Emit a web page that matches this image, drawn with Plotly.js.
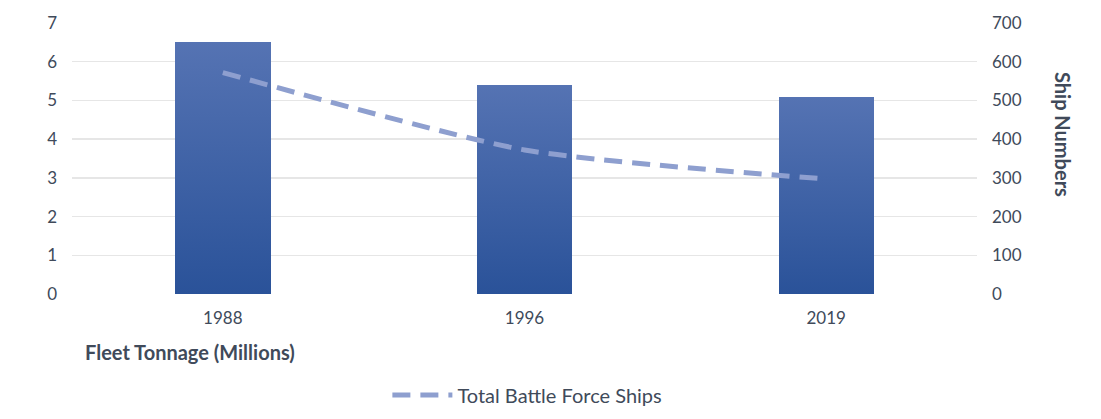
<!DOCTYPE html>
<html>
<head>
<meta charset="utf-8">
<script src="https://cdn.plot.ly/plotly-3.0.1.min.js"></script>
<style>
  html, body { margin: 0; padding: 0; background: #fff; }
  #chart { width: 1101px; height: 419px; }
</style>
</head>
<body>
<div id="chart"></div>
<script>
var years = ['1988', '1996', '2019'];
var fleetTonnage = [6.5, 5.4, 5.1];       // millions
var battleForceShips = [572, 372, 297];

var textColor = '#404a5a';
var font = 'Lato, "Open Sans", sans-serif';

var traces = [
    {
        type: 'bar',
        x: years,
        y: fleetTonnage,
        width: 0.316,
        marker: { color: '#3d63a8', line: { width: 0 } },
        showlegend: false,
        hoverinfo: 'skip'
    },
    {
        type: 'scatter',
        mode: 'lines',
        x: years,
        y: battleForceShips,
        yaxis: 'y2',
        name: 'Total Battle Force Ships',
        line: { color: '#8e9fcf', width: 5, dash: '18px,10px', shape: 'spline', smoothing: 0.6 }
    }
];

var layout = {
    width: 1101,
    height: 419,
    margin: { l: 72, r: 124, t: 23, b: 125 },
    plot_bgcolor: '#fff',
    paper_bgcolor: '#fff',
    font: { family: font, size: 17, color: textColor },
    bargap: 0,
    xaxis: {
        type: 'category',
        showgrid: false,
        showline: false,
        zeroline: false,
        ticks: '',
        tickfont: { size: 17, color: textColor },
        ticklabelstandoff: 12
    },
    yaxis: {
        range: [0, 7],
        dtick: 1,
        showgrid: true,
        gridcolor: '#e6e6e6',
        gridwidth: 1.5,
        zeroline: false,
        showline: false,
        ticks: '',
        tickfont: { size: 17, color: textColor },
        ticklabelstandoff: 14
    },
    yaxis2: {
        overlaying: 'y',
        side: 'right',
        range: [0, 700],
        dtick: 100,
        showgrid: false,
        zeroline: false,
        showline: false,
        ticks: '',
        tickfont: { size: 17, color: textColor },
        ticklabelstandoff: 14
    },
    showlegend: true,
    legend: {
        orientation: 'h',
        xref: 'container',
        yref: 'container',
        x: 0.479,
        xanchor: 'center',
        y: 0.057,
        yanchor: 'middle',
        font: { size: 20, color: textColor },
        itemwidth: 60
    },
    annotations: [
        {
            text: '<b>Fleet Tonnage (Millions)</b>',
            xref: 'paper', yref: 'paper',
            x: 0.012, y: -0.214,
            xanchor: 'left', yanchor: 'middle',
            showarrow: false,
            font: { size: 20, color: textColor }
        },
        {
            text: '<b>Ship Numbers</b>',
            xref: 'paper', yref: 'paper',
            x: 1.095, y: 0.587,
            xanchor: 'center', yanchor: 'middle',
            textangle: 90,
            showarrow: false,
            font: { size: 20, color: textColor }
        }
    ]
};

Plotly.newPlot('chart', traces, layout, { displayModeBar: false, staticPlot: true }).then(function (gd) {
    // vertical gradient on the bars, lighter at the top
    var svg = gd.querySelector('.main-svg');
    var ns = 'http://www.w3.org/2000/svg';
    var defs = svg.querySelector('defs') || svg.insertBefore(document.createElementNS(ns, 'defs'), svg.firstChild);
    var grad = document.createElementNS(ns, 'linearGradient');
    grad.setAttribute('id', 'barGrad');
    grad.setAttribute('x1', '0'); grad.setAttribute('y1', '0');
    grad.setAttribute('x2', '0'); grad.setAttribute('y2', '1');
    [['0', '#5573b3'], ['1', '#2a5299']].forEach(function (s) {
        var stop = document.createElementNS(ns, 'stop');
        stop.setAttribute('offset', s[0]);
        stop.setAttribute('stop-color', s[1]);
        grad.appendChild(stop);
    });
    defs.appendChild(grad);
    gd.querySelectorAll('.bars .point path').forEach(function (p) {
        p.style.fill = 'url(#barGrad)';
    });
});
</script>
</body>
</html>
